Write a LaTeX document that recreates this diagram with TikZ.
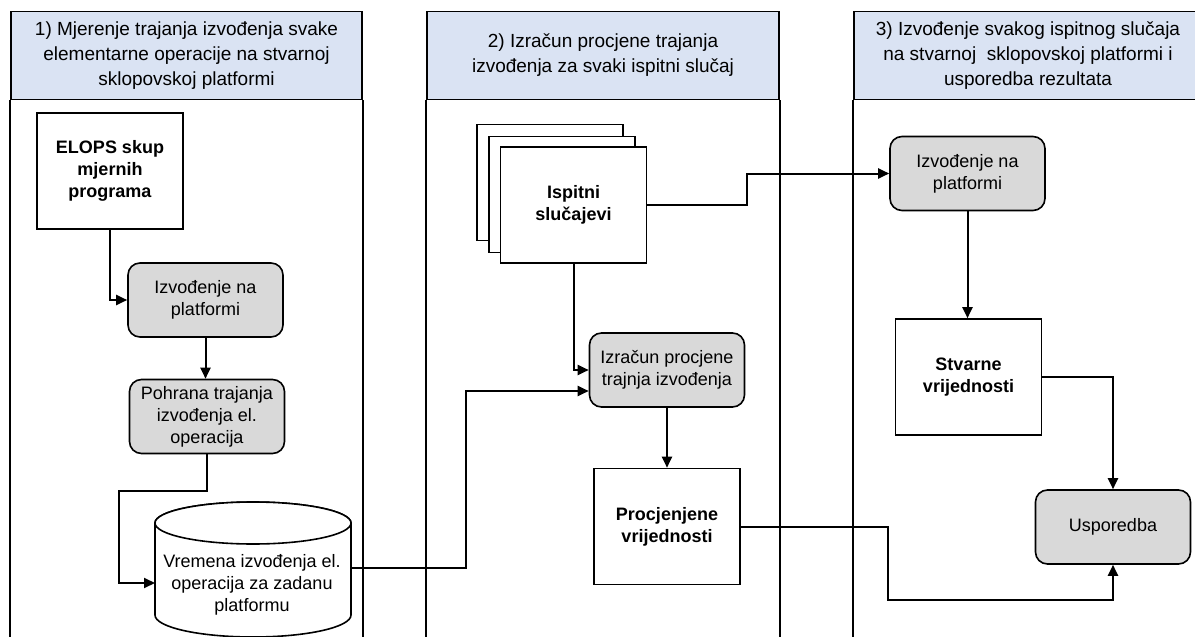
\documentclass[tikz,border=0pt]{standalone}
\usepackage{fontspec}
\setmainfont{Liberation Sans}
\usetikzlibrary{arrows.meta}
\definecolor{laneblue}{HTML}{DAE3F3}
\definecolor{boxgray}{HTML}{D9D9D9}
\tikzset{
	lanehead/.style={draw, line width=1.6pt, fill=laneblue, minimum height=88pt, inner sep=0, align=center, font=\fontsize{19}{25}\selectfont},
	laneline/.style={line width=1.6pt},
	databox/.style={draw, line width=1.6pt, fill=white, minimum width=146pt, minimum height=116pt, inner sep=2pt, align=center, font=\fontsize{18}{22}\selectfont\bfseries},
	stepbox/.style={draw, line width=1.6pt, fill=boxgray, rounded corners=12pt, minimum width=155pt, minimum height=74pt, inner sep=2pt, align=center, font=\fontsize{18}{22}\selectfont},
	dbline/.style={draw, line width=1.6pt, fill=white},
	cyltext/.style={align=center, inner sep=0, font=\fontsize{18}{22}\selectfont},
	flow/.style={line width=2pt, -{Triangle[length=11pt,width=10pt]}},
}
\begin{document}
\begin{tikzpicture}[x=1pt, y=-1pt]
	\useasboundingbox (0,0) rectangle (1195,637);
	% Lanes:
	\node[lanehead, minimum width=351pt] (head1) at (186.5,55.5) {1) Mjerenje trajanja izvođenja svake\\ elementarne operacije na stvarnoj\\ sklopovskoj platformi};
	\node[lanehead, minimum width=352pt] (head2) at (603,55.5) {2) Izračun procjene trajanja\\ izvođenja za svaki ispitni slučaj};
	\node[lanehead, minimum width=348pt] (head3) at (1028,55.5) {3) Izvođenje svakog ispitnog slučaja\\ na stvarnoj~ sklopovskoj platformi i\\ usporedba rezultata};
	\draw[laneline] (head1.south west) -- ++(0,560);
	\draw[laneline] (head1.south east) -- ++(0,560);
	\draw[laneline] (head2.south west) -- ++(0,560);
	\draw[laneline] (head2.south east) -- ++(0,560);
	\draw[laneline] (head3.south west) -- ++(0,560);
	\draw[laneline] (head3.south east) -- ++(0,560);
	% Lane 1:
	\node[databox] (elops) at (110,171) {ELOPS skup\\ mjernih\\ programa};
	\node[stepbox] (run1) at (205.5,300) {Izvođenje na\\ platformi};
	\node[stepbox] (store) at (207,416.5) {Pohrana trajanja\\ izvođenja el.\\ operacija};
	\path[dbline] (155,523) -- (155,615) arc[start angle=180, end angle=0, x radius=98, y radius=22] -- (351,523) arc[start angle=0, end angle=-180, x radius=98, y radius=21] -- cycle;
	\draw[dbline] (253,523) ellipse[x radius=98, y radius=21];
	\node[cyltext] (times) at (252,585) {Vremena izvođenja el.\\ operacija za zadanu\\ platformu};
	\coordinate (timesin) at (155,583);
	\coordinate (timesout) at (351,568);
	% Lane 2:
	\node[databox] (cases3) at (550,182.5) {};
	\node[databox] (cases2) at (562,194.5) {};
	\node[databox] (cases) at (573.5,205) {Ispitni\\ slučajevi};
	\node[stepbox] (estimate) at (667,370) {Izračun procjene\\ trajnja izvođenja};
	\node[databox] (estimated) at (667,526.5) {Procjenjene\\ vrijednosti};
	% Lane 3:
	\node[stepbox] (run2) at (967.5,173.5) {Izvođenje na\\ platformi};
	\node[databox] (actual) at (968.5,377) {Stvarne\\ vrijednosti};
	\node[stepbox] (compare) at (1113,527) {Usporedba};
	% Connectors:
	\draw[flow] (elops.south) |- (run1.west);
	\draw[flow] (run1.south) -- (run1.south |- store.north);
	\draw[flow] (store.south) -- ++(0,37) -- ++(-88,0) |- (timesin);
	\draw[flow] (timesout) -- ++(115,0) |- ([yshift=-21pt]estimate.west);
	\draw[flow] (cases.south) |- (estimate.west);
	\draw[flow] (estimate.south) -- (estimated.north);
	\draw[flow] (cases.east) -- ++(100,0) |- (run2.west);
	\draw[flow] (run2.south) -- (run2.south |- actual.north);
	\draw[flow] (actual.east) -| (compare.north);
	\draw[flow] (estimated.east) -- ++(147,0) |- ([yshift=-35pt]compare.south) -- (compare.south);
\end{tikzpicture}
\end{document}
